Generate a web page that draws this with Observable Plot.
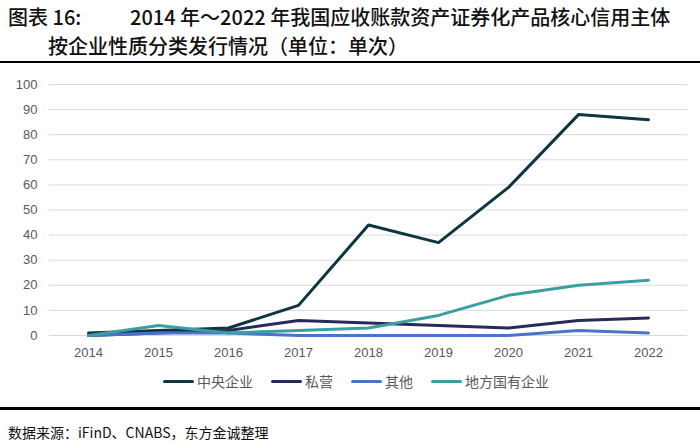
<!DOCTYPE html>
<html>
<head>
<meta charset="utf-8">
<script src="https://cdn.jsdelivr.net/npm/d3@7"></script>
<script src="https://cdn.jsdelivr.net/npm/@observablehq/plot@0.6"></script>
<style>
  html, body { margin: 0; padding: 0; background: #fff; }
  body { width: 700px; height: 443px; position: relative; overflow: hidden; font-family: "Noto Sans CJK SC", "Noto Sans", sans-serif; }
  .t { position: absolute; font-size: 20px; line-height: 24px; color: #111; font-weight: 500; white-space: nowrap; }
  .rule { position: absolute; left: 0; width: 700px; background: #000; }
  #chart { position: absolute; left: 0; top: 66px; }
  #legend { position: absolute; top: 371px; left: 0; width: 700px; display: flex; justify-content: center; gap: 18px; font-size: 14px; color: #595959; line-height: 20px; padding-left: 12px; box-sizing: border-box; }
  #legend .item { display: flex; align-items: center; }
  #legend .sw { width: 31px; height: 3px; border-radius: 2px; margin-right: 3px; }
  #source { position: absolute; left: 8px; top: 422px; font-size: 14px; line-height: 20px; color: #111; white-space: nowrap; }
</style>
</head>
<body>
<div class="t" style="left:8px;top:5px;">图表 16:</div>
<div class="t" style="left:130px;top:5px;">2014 年～2022 年我国应收账款资产证券化产品核心信用主体</div>
<div class="t" style="left:48px;top:34px;">按企业性质分类发行情况（单位：单次）</div>
<div class="rule" style="top:61px;height:2px;"></div>
<div id="chart"></div>
<div id="legend"></div>
<div class="rule" style="top:407px;height:3px;"></div>
<div id="source">数据来源：iFinD、CNABS，东方金诚整理</div>
<script>
const years = ["2014","2015","2016","2017","2018","2019","2020","2021","2022"];
const seriesNames = ["中央企业","私营","其他","地方国有企业"];
const central = [1, 2, 3, 12, 44, 37, 59, 88, 86];
const privateEnt = [0, 1, 2, 6, 5, 4, 3, 6, 7];
const other = [0, 1, 1, 0, 0, 0, 0, 2, 1];
const localSoe = [0, 4, 1, 2, 3, 8, 16, 20, 22];
const yTicks = [0,10,20,30,40,50,60,70,80,90,100];
const colors = ["#0e3540", "#272b5c", "#4a74c8", "#3a9fa1"];

const valuesBySeries = [central, privateEnt, other, localSoe];
const data = [];
seriesNames.forEach((s, i) => {
  years.forEach((y, j) => data.push({series: s, year: y, value: valuesBySeries[i][j]}));
});

const chart = Plot.plot({
  width: 700,
  height: 300,
  marginTop: 18,
  marginBottom: 31,
  marginLeft: 49,
  marginRight: 13,
  style: {fontFamily: "'Liberation Sans', Arial, sans-serif", fontSize: "13px", color: "#595959", background: "#fff"},
  x: {type: "point", domain: years, padding: 0.5, label: null},
  y: {domain: [0, 100], ticks: yTicks, label: null},
  color: {domain: seriesNames, range: colors},
  marks: [
    Plot.gridY(yTicks, {stroke: "#d9d9d9", strokeOpacity: 1, strokeWidth: 1}),
    Plot.axisY(yTicks, {tickSize: 0, tickPadding: 12, fill: "#595959", fontSize: 13, label: null}),
    Plot.axisX(years, {tickSize: 0, tickPadding: 12, fill: "#595959", fontSize: 13, label: null}),
    Plot.line(data, {x: "year", y: "value", z: "series", stroke: "series", strokeWidth: 3, strokeLinejoin: "round", strokeLinecap: "round"})
  ]
});
document.getElementById("chart").appendChild(chart);

const legend = document.getElementById("legend");
seriesNames.forEach((s, i) => {
  const it = document.createElement("div");
  it.className = "item";
  const sw = document.createElement("div");
  sw.className = "sw";
  sw.style.background = colors[i];
  const tx = document.createElement("span");
  tx.textContent = s;
  it.appendChild(sw);
  it.appendChild(tx);
  legend.appendChild(it);
});
</script>
</body>
</html>
